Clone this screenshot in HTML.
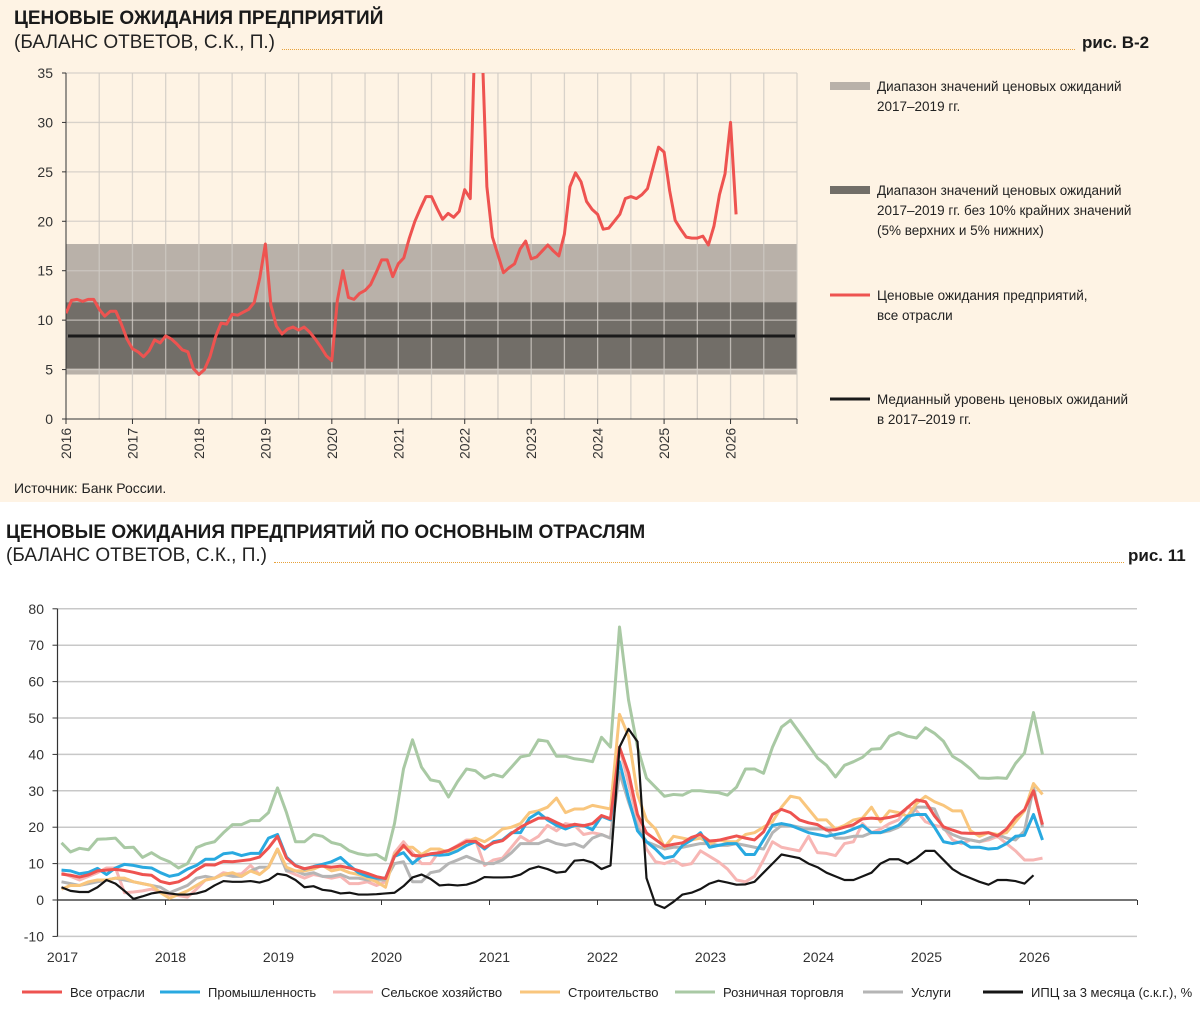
<!DOCTYPE html>
<html><head><meta charset="utf-8">
<style>
body{margin:0;width:1200px;height:1015px;overflow:hidden;background:#fff;font-family:"Liberation Sans","Noto Sans CJK SC",sans-serif;}
#top{position:absolute;left:0;top:0;width:1200px;height:502px;background:#fef3e4;}
.h{position:absolute;font-weight:bold;font-size:19px;color:#1a1a1a;}
.sub{position:absolute;font-size:19px;color:#222;}
.dots{position:absolute;border-bottom:1px dotted #e8a23a;height:0;}
.fig{position:absolute;font-weight:bold;font-size:17px;color:#1a1a1a;}
svg{position:absolute;left:0;}
</style></head><body>
<div id="top"></div>
<div class="h" style="left:14px;top:8px">ЦЕНОВЫЕ ОЖИДАНИЯ ПРЕДПРИЯТИЙ</div>
<div class="sub" style="left:14px;top:32px">(БАЛАНС ОТВЕТОВ, С.К., П.)</div>
<div class="dots" style="left:282px;top:49px;width:793px"></div>
<div class="fig" style="left:1082px;top:33px">рис. В-2</div>
<div class="sub" style="left:14px;top:480px;font-size:14px">Источник: Банк России.</div>
<div class="h" style="left:6px;top:522px">ЦЕНОВЫЕ ОЖИДАНИЯ ПРЕДПРИЯТИЙ ПО ОСНОВНЫМ ОТРАСЛЯМ</div>
<div class="sub" style="left:6px;top:545px">(БАЛАНС ОТВЕТОВ, С.К., П.)</div>
<div class="dots" style="left:274px;top:562px;width:850px"></div>
<div class="fig" style="left:1128px;top:546px">рис. 11</div>

<svg id="s1" width="1200" height="480" style="top:0"></svg>
<svg id="s2" width="1200" height="1015" style="top:0"></svg>

<script>
// ---------- TOP CHART DATA ----------
const topYears = ["2016","2017","2018","2019","2020","2021","2022","2023","2024","2025","2026"];
const topYTicks = [0,5,10,15,20,25,30,35];
const bandWide = [4.5,17.7];
const bandNarrow = [5.1,11.8];
const medianLevel = 8.4;
const allSectorsTop = [
10.7,12.0,12.1,11.9,12.1,12.1,11.1,10.4,10.9,10.9,9.6,8.1,
7.1,6.8,6.3,6.9,8.0,7.7,8.4,8.1,7.6,7.0,6.8,5.1,
4.5,5.0,6.3,8.3,9.7,9.6,10.6,10.5,10.8,11.1,11.8,14.3,
17.7,11.5,9.4,8.6,9.1,9.3,9.0,9.3,8.8,8.1,7.3,6.4,
5.9,12.0,15.0,12.3,12.1,12.7,13.0,13.6,14.8,16.1,16.1,14.4,
15.7,16.3,18.3,20.0,21.3,22.5,22.5,21.3,20.2,20.8,20.4,21.0,
23.2,22.3,42.0,40.0,23.5,18.4,16.6,14.8,15.3,15.7,17.2,18.0,
16.2,16.4,17.0,17.6,17.0,16.5,18.7,23.5,24.9,24.0,22.0,21.2,
20.7,19.2,19.3,20.0,20.7,22.3,22.5,22.3,22.7,23.3,25.4,27.5,
27.0,23.1,20.1,19.2,18.4,18.3,18.3,18.5,17.6,19.5,22.7,24.8,
30.0,20.7];
const topLegend = ["Диапазон значений ценовых ожиданий|2017–2019 гг.","Диапазон значений ценовых ожиданий|2017–2019 гг. без 10% крайних значений|(5% верхних и 5% нижних)","Ценовые ожидания предприятий,| все отрасли","Медианный уровень ценовых ожиданий| в 2017–2019 гг."];

// ---------- BOTTOM CHART DATA ----------
const botYears = ["2017","2018","2019","2020","2021","2022","2023","2024","2025","2026"];
const botYTicks = [-10,0,10,20,30,40,50,60,70,80];
const seriesNames = ["Все отрасли","Промышленность","Сельское хозяйство","Строительство","Розничная торговля","Услуги","ИПЦ за 3 месяца (с.к.г.), %"];
const allSectors = [
7.1,6.8,6.3,6.9,8.0,8.2,8.4,8.1,7.6,7.0,6.8,5.1,
4.5,5.0,6.3,8.3,9.7,9.6,10.6,10.5,10.8,11.1,11.8,14.3,
17.5,11.5,9.4,8.6,9.1,9.3,9.0,9.3,8.8,8.1,7.3,6.4,
5.9,12.0,15.0,12.3,12.1,12.7,13.0,13.6,14.8,16.1,16.1,14.4,
15.7,16.3,18.3,20.0,21.3,22.5,22.5,21.3,20.2,20.8,20.4,21.0,
23.2,22.3,42.0,35.0,23.5,18.4,16.6,14.8,15.3,15.7,17.2,18.0,
16.2,16.4,17.0,17.6,17.0,16.5,18.7,23.5,24.9,24.0,22.0,21.2,
20.7,19.2,19.3,20.0,20.7,22.3,22.5,22.3,22.7,23.3,25.4,27.5,
27.0,23.1,20.1,19.2,18.4,18.3,18.3,18.5,17.6,19.5,22.7,24.8,
30.0,20.7];
const industry = [
8.2,8,7.2,7.6,8.7,7,8.8,9.8,9.5,9,8.8,7.5,
6.5,7,8.5,9.5,11.2,11.2,12.7,13,12.2,12.8,12.8,17,
18,11.8,9.5,8.5,9.2,9.8,10.5,11.7,9.5,7.5,6.5,6,
6,12,13,10,12,12.5,12.3,12.5,13.5,15,16,14,
16,16.5,18.5,18.5,22.5,24,22,20.5,19.5,20.5,20.5,19.3,
23,22,38,28,19,16,14,11.5,12,15,16.5,18.5,
14.5,15,15.5,15.5,12.5,12.5,16.5,20.5,21,20.5,19.5,18.5,
18,17.5,18,18.5,19.5,20.5,18.5,18.5,19.5,20.5,23,23.5,
23.5,20,16,15.5,16,14.5,14.5,14,14.2,15.5,17.5,17.8,
23.5,16.5];
const agriculture = [
7.5,6.5,5.5,6.5,7.5,8.8,8.8,2,2.2,2.5,3,2.3,
1.5,1.2,0.8,3,5.5,6,7.5,7,7.2,9.5,7,9,
14,8,7,6,7,6.5,6,6.5,4.5,4.5,5,4,
5,13,16,13,10,10,13.5,13.5,15,16.5,16.5,9.5,
11,11.5,14.5,17.5,16,17.5,20.5,19,21,20.5,18,18.5,
18,17,42,32,22,14,10.5,10,11,9.5,10,13.5,
12,10.5,8.5,5.5,5,6.5,11,16,14.5,14,13.5,17.5,
13,12.8,12.2,15.5,16,21,18.5,19.5,21,22,25.5,24.5,
21.5,20.5,20,16.5,15.5,16.5,16,16.5,17.5,15.5,13.5,11,
11,11.5];
const construction = [
3,4,4,5,5.5,5.5,6,6,5,4.5,4,2,
0.5,1.5,2.5,4,5.5,6,7,7.5,6.5,8,7,9,
14,9,8,8,8.5,9.5,8,8.5,7.5,7,6,5,
3.5,12.5,14.5,14.5,12.5,14,14,13,14.5,16,17,16,
17.5,19.5,20,21,24,24.5,25.5,28,24,25,25,26,
25.5,25,51,45,29,22,19.5,14.5,17.5,17,16.5,17,
15.5,16.5,16,16,18,18.5,20,21.5,25.5,28.5,28,25,
22,22,19.5,20.5,22,22.5,25.5,21.5,24.5,24,23,26.5,
28.5,27,26,24.5,24.5,19,17.5,18.5,18,18.5,21.5,24.5,
32,29];
const retail = [
15.7,13.2,14.2,13.8,16.7,16.8,17.0,14.4,14.5,11.7,13.0,11.5,
10.5,8.8,10.0,14.4,15.4,16.0,18.5,20.7,20.7,21.8,21.8,24.0,
30.8,24.0,16.0,16.0,18.0,17.5,15.8,15.2,13.5,12.7,12.3,12.5,
11.0,21.0,36.0,44.0,36.5,33.0,32.5,28.3,32.5,36.0,35.5,33.5,
34.5,33.8,36.5,39.3,39.8,44.0,43.6,39.5,39.5,38.8,38.5,38.0,
44.7,42,75,55,42,33.5,31,28.5,29,28.8,30,30,
29.7,29.5,28.8,31,36,36,34.8,42,47.5,49.4,46,42.5,
39,37,33.8,37,38,39.2,41.4,41.6,45,46,45,44.5,
47.3,45.8,43.6,39.5,38,36,33.5,33.4,33.6,33.4,37.5,40.4,
51.5,40];
const services = [
5,4.5,4,4.5,5,5.5,6,5.5,5,4.5,4,3.5,
2,3,4,6,6.5,6,7,6.5,6.5,8,9,9,
14,8,8,7,7.5,6.5,6.5,7,6,6,5.5,5.5,
5.5,10,10.5,5,5,7.5,8,10,11,12,11,10,
10,11,13,15.5,15.5,15.5,16.5,15.5,15,15.5,14.5,17,
18,17,35,27,20,16,15,14,14.5,14.5,15,15.5,
15.5,15,15,15.5,15,14.5,14,18.5,20.5,20.5,20,19.5,
19.5,19.5,17,17,17.5,17.5,18.5,18.5,19,20,22,25.5,
25.5,25,19.5,18,17,16.5,16,17,18,17,16.5,19,
31,20];
const cpi3m = [
3.5,2.5,2.2,2.2,3.5,5.5,4.5,2.5,0.3,1,1.8,2.2,
1.8,1.5,1.5,1.8,2.5,4,5.2,5,5,5.2,4.8,5.5,
7.2,6.8,5.5,3.5,3.8,2.8,2.5,1.8,2,1.5,1.5,1.6,
1.8,2,3.8,6.2,7,5.8,4,4.2,4,4.2,5,6.3,
6.2,6.2,6.3,7,8.5,9.2,8.5,7.5,7.8,10.8,11,10.3,
8.5,9.5,42,47,43.5,6,-1.2,-2.2,-0.5,1.5,2,3,
4.5,5.3,4.8,4.2,4.3,5,7.5,10,12.5,12,11.5,10,
9,7.5,6.5,5.5,5.5,6.5,7.5,10,11.2,11.2,10,11.5,
13.5,13.5,11,8.5,7,6,5,4.2,5.5,5.5,5.2,4.5,
6.8];

const NS="http://www.w3.org/2000/svg";
function mk(svg,tag,attrs,name,text){const e=document.createElementNS(NS,tag);for(const k in attrs)e.setAttribute(k,attrs[k]);


if(text!==undefined)e.textContent=text;svg.appendChild(e);return e;}
const FONT='"Liberation Sans","Noto Sans CJK SC",sans-serif';

// ---------- draw top ----------
(function(){
const s=document.getElementById('s1');
const X0=66,X1=797,Y0=419,Y35=73;
const nY=topYears.length; const yrW=(X1-X0)/(nY);
const x=m=>X0+m*yrW/12; const y=v=>Y0-(v/35)*(Y0-Y35);
mk(s,'rect',{x:X0,y:y(bandWide[1]),width:X1-X0,height:y(bandWide[0])-y(bandWide[1]),fill:'#b9b1a9'},'wide-range-band');
mk(s,'rect',{x:X0,y:y(bandNarrow[1]),width:X1-X0,height:y(bandNarrow[0])-y(bandNarrow[1]),fill:'#726e68'},'narrow-range-band');
for(let i=1;i<=nY*2;i++){const gx=X0+i*yrW/2;mk(s,'line',{x1:gx,x2:gx,y1:Y35,y2:Y0,stroke:'#cfcac4','stroke-width':1.3,opacity:0.8},'v-gridline');}
topYTicks.forEach(v=>{if(v>0)mk(s,'line',{x1:X0,x2:X1,y1:y(v),y2:y(v),stroke:'#cfcac4','stroke-width':1.3,opacity:0.8},'h-gridline');
mk(s,'text',{x:53,y:y(v)+5,'text-anchor':'end','font-size':14,fill:'#333','font-family':FONT},'y-tick-label',String(v));
mk(s,'line',{x1:X0-4,x2:X0,y1:y(v),y2:y(v),stroke:'#333'},'y-tick');});
mk(s,'line',{x1:X0,x2:X0,y1:Y35,y2:Y0,stroke:'#333','stroke-width':1},'y-axis');
mk(s,'line',{x1:X0,x2:X1,y1:Y0,y2:Y0,stroke:'#333','stroke-width':1},'x-axis');
for(let i=0;i<=nY;i++){const gx=X0+i*yrW;mk(s,'line',{x1:gx,x2:gx,y1:Y0,y2:Y0+5,stroke:'#333'},'x-tick');
if(i<nY){mk(s,'text',{x:0,y:0,transform:`translate(${gx+5},${Y0+40}) rotate(-90)`,'font-size':14,fill:'#333','font-family':FONT},'x-tick-label',topYears[i]);}}
mk(s,'line',{x1:X0+2,x2:X1-2,y1:y(medianLevel),y2:y(medianLevel),stroke:'#1a1a1a','stroke-width':3},'median-line');
const d=mk(s,'defs',{},'defs');const cp=document.createElementNS(NS,'clipPath');cp.setAttribute('id','c1');d.appendChild(cp);
mk(cp,'rect',{x:X0,y:Y35,width:X1-X0,height:Y0-Y35},'clip-rect');
mk(s,'polyline',{points:allSectorsTop.map((v,i)=>x(i)+','+y(v)).join(' '),fill:'none',stroke:'#ee5350','stroke-width':3,'stroke-linejoin':'round','clip-path':'url(#c1)'},'all-sectors-line');
const ly=[86,190,295,399];const cols=['#b9b1a9','#726e68','#ee5350','#1a1a1a'];const sw=[8,8,3,3];
topLegend.forEach((t,i)=>{mk(s,'line',{x1:830,x2:870,y1:ly[i],y2:ly[i],stroke:cols[i],'stroke-width':sw[i]},'legend-swatch');
t.split('|').forEach((ln,j)=>mk(s,'text',{x:877,y:ly[i]+5+j*20,'font-size':13.5,fill:'#222','font-family':FONT},'legend-text',ln));});
})();

// ---------- draw bottom ----------
(function(){
const s=document.getElementById('s2');
const X0=57.5,XE=1137,Y0=900,U=3.64;
const yrW=108;
const x=m=>X0+m*yrW/12+4; const y=v=>Y0-v*U;
botYTicks.forEach(v=>{mk(s,'line',{x1:X0,x2:XE,y1:y(v),y2:y(v),stroke:'#c8c8c8','stroke-width':1.5},'h-gridline');
mk(s,'line',{x1:X0-5,x2:X0,y1:y(v),y2:y(v),stroke:'#333'},'y-tick');
mk(s,'text',{x:44,y:y(v)+5,'text-anchor':'end','font-size':14,fill:'#333','font-family':FONT},'y-tick-label',String(v));});
mk(s,'line',{x1:X0,x2:X0,y1:y(80),y2:y(-10),stroke:'#333','stroke-width':1.2},'y-axis');
mk(s,'line',{x1:X0,x2:XE,y1:Y0,y2:Y0,stroke:'#333','stroke-width':1.2},'x-axis');
for(let i=0;i<=botYears.length;i++){const gx=X0+i*yrW;mk(s,'line',{x1:gx,x2:gx,y1:Y0,y2:Y0+5,stroke:'#333'},'x-tick');
if(i<botYears.length)mk(s,'text',{x:gx+5,y:962,'text-anchor':'middle','font-size':14,fill:'#333','font-family':FONT},'x-tick-label',botYears[i]);}
const data=[allSectors,industry,agriculture,construction,retail,services,cpi3m];
const cols=['#ee5350','#29a9e0','#f7b6b4','#f9c67d','#a9c9a4','#b5b5b5','#151515'];
const names=['all-sectors-line','industry-line','agriculture-line','construction-line','retail-line','services-line','cpi-line'];
const order=[4,2,5,3,1,0,6];
order.forEach(k=>{mk(s,'polyline',{points:data[k].map((v,i)=>x(i)+','+y(v)).join(' '),fill:'none',stroke:cols[k],'stroke-width':k==6?2.2:3,'stroke-linejoin':'round'},names[k]);});
const lx=[22,160,333,520,675,863,983];
seriesNames.forEach((n,k)=>{mk(s,'line',{x1:lx[k],x2:lx[k]+40,y1:992,y2:992,stroke:cols[k],'stroke-width':3},'legend-swatch');
mk(s,'text',{x:lx[k]+48,y:997,'font-size':13,fill:'#222','font-family':FONT},'legend-entry',n);});
})();
</script>
</body></html>
